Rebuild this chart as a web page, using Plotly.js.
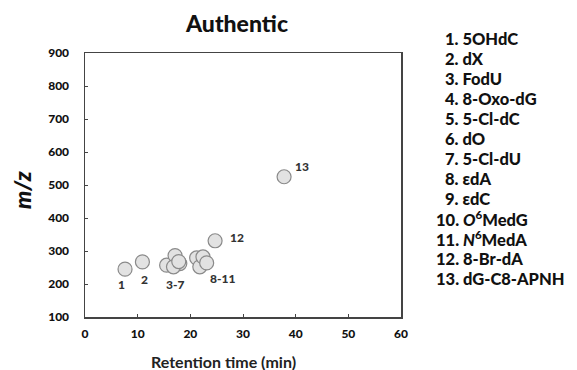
<!DOCTYPE html>
<html><head><meta charset="utf-8">
<script src="https://cdn.plot.ly/plotly-3.0.1.min.js"></script>
<style>body{margin:0;background:#fff}#c{width:577px;height:370px}</style>
</head><body><div id="c"></div>
<script>
var ids = [1,2,3,4,5,6,7,8,9,10,11,12,13];
var retention = [7.6, 10.9, 15.5, 17.1, 18.0, 16.8, 17.8, 21.2, 21.8, 22.4, 23.1, 24.7, 37.8];
var mz = [245, 267, 257, 286, 262, 252, 268, 279, 252, 282, 264, 331, 525];
var groupLabels = ["1", "2", "3-7", "8-11", "12", "13"];
var groupX = [7.0, 11.3, 17.0, 26.2, 28.8, 41.2];
var groupY = [200, 213, 198, 216, 340, 555];
var names = ["5OHdC","dX","FodU","8-Oxo-dG","5-Cl-dC","dO","5-Cl-dU","εdA","εdC",
  "<i>O</i><sup>6</sup>MedG","<i>N</i><sup>6</sup>MedA","8-Br-dA","dG-C8-APNH"];

var F = "Lato, 'Open Sans', sans-serif";
var trace = {
  x: retention, y: mz, mode: "markers", type: "scatter",
  marker: {size: 14, color: "#e2e2e2", line: {color: "#8a8a8a", width: 1.2}},
  hoverinfo: "skip"
};
function px2x(p) { return (p - 85) / 316; }
function py2y(p) { return (317 - p) / 264; }
var ann = [];
for (var i = 0; i < groupLabels.length; i++) {
  ann.push({x: groupX[i], y: groupY[i], xref: "x", yref: "y", text: groupLabels[i],
    showarrow: false, font: {family: F, size: 12, color: "#333", weight: 900}});
}
for (var j = 0; j < names.length; j++) {
  var py = 39 + j * 20;
  var left = ids[j] >= 10 ? 434 : 443;
  ann.push({x: px2x(left), y: py2y(py), xref: "paper", yref: "paper",
    xanchor: "left", yanchor: "middle", showarrow: false,
    text: ids[j] + ". " + names[j],
    font: {family: F, size: 16.5, color: "#111", weight: 900}});
}
ann.push({x: px2x(223), y: py2y(361), xref: "paper", yref: "paper", showarrow: false,
  xanchor: "center", yanchor: "middle", text: "Retention time (min)",
  font: {family: F, size: 16, color: "#222", weight: 700}});
ann.push({x: px2x(22), y: py2y(190), xref: "paper", yref: "paper", showarrow: false,
  xanchor: "center", yanchor: "middle", textangle: -90, text: "<i>m/z</i>",
  font: {family: F, size: 23, color: "#111", weight: 900}});
var layout = {
  width: 577, height: 370,
  margin: {l: 85, r: 176, t: 53, b: 53},
  paper_bgcolor: "#fff", plot_bgcolor: "#fff",
  showlegend: false,
  title: {text: "Authentic", x: 237 / 577, xanchor: "center", y: 1 - 24 / 370, yanchor: "middle",
    font: {family: F, size: 23, color: "#111", weight: 900}},
  xaxis: {range: [0, 60], dtick: 10, tick0: 0, showgrid: false, zeroline: false,
    showline: true, mirror: true, linecolor: "#444", linewidth: 1.5,
    ticks: "inside", ticklen: 3, tickcolor: "#444", ticklabelstandoff: 5,
    tickfont: {family: F, size: 12, color: "#111", weight: 900}},
  yaxis: {range: [100, 900], dtick: 100, tick0: 100, showgrid: false, zeroline: false,
    showline: true, mirror: true, linecolor: "#444", linewidth: 1.5,
    ticks: "inside", ticklen: 3, tickcolor: "#444", ticklabelstandoff: 12,
    tickfont: {family: F, size: 12, color: "#111", weight: 900}},
  annotations: ann
};
Plotly.newPlot("c", [trace], layout, {staticPlot: true});
</script></body></html>
